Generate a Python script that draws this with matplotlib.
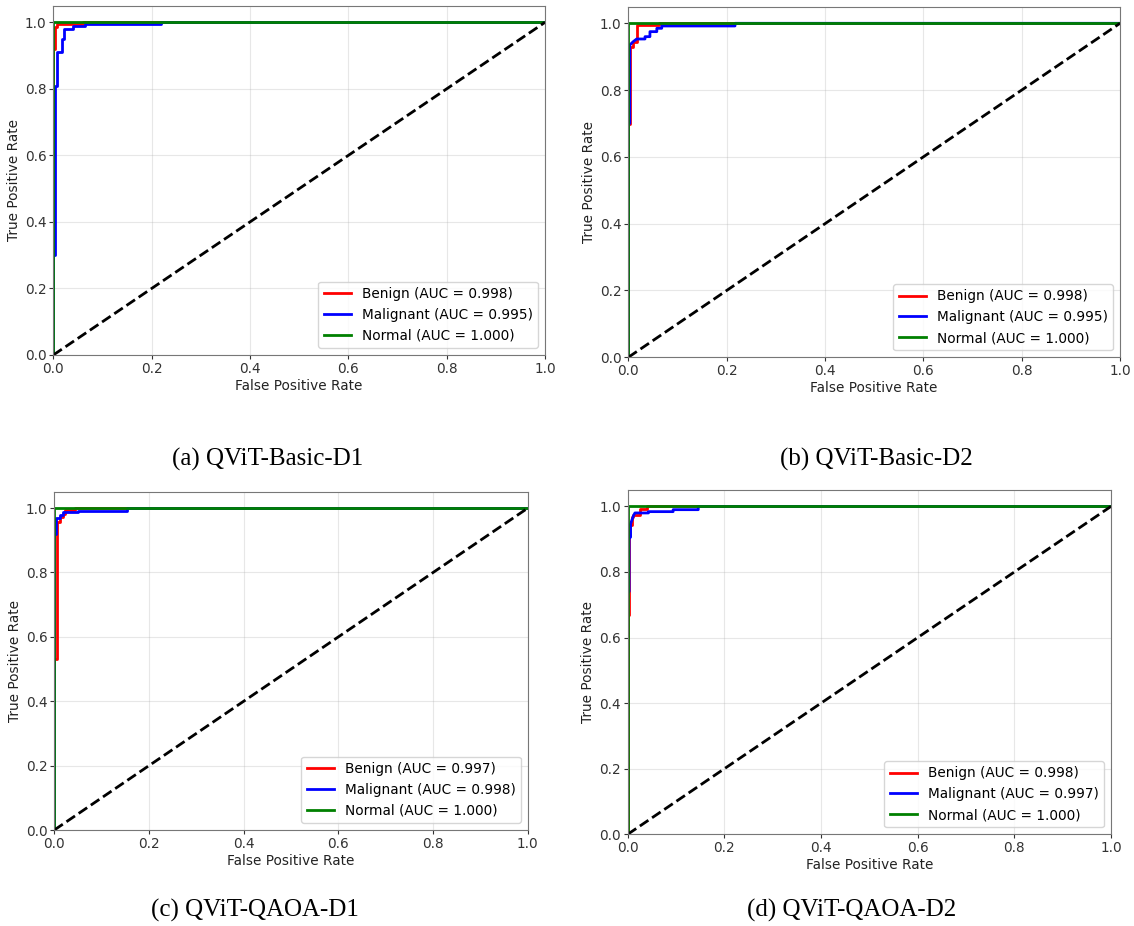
import matplotlib
matplotlib.use("Agg")
import matplotlib.pyplot as plt

W, H = 1134, 926

# ---------------- data ----------------
titles = ["(a) QViT-Basic-D1", "(b) QViT-Basic-D2", "(c) QViT-QAOA-D1", "(d) QViT-QAOA-D2"]
class_names = ["Benign", "Malignant", "Normal"]
class_colors = ["red", "blue", "green"]

auc_a = [0.998, 0.995, 1.000]
auc_b = [0.998, 0.995, 1.000]
auc_c = [0.997, 0.998, 1.000]
auc_d = [0.998, 0.997, 1.000]

# Panel (a)
benign_a_fpr = [0, 0, 0.003, 0.003, 0.008, 0.008, 0.060, 0.060, 1.0]
benign_a_tpr = [0, 0.92, 0.92, 0.985, 0.985, 0.994, 0.994, 1.0, 1.0]
malig_a_fpr = [0, 0, 0.004, 0.004, 0.008, 0.008, 0.017, 0.017, 0.021, 0.021, 0.041, 0.041, 0.064, 0.064, 0.22, 0.22, 1.0]
malig_a_tpr = [0, 0.30, 0.30, 0.81, 0.81, 0.91, 0.91, 0.95, 0.95, 0.98, 0.98, 0.989, 0.989, 0.994, 0.994, 1.0, 1.0]
normal_a_fpr = [0, 0, 1.0]
normal_a_tpr = [0, 1.0, 1.0]

# Panel (b)
benign_b_fpr = [0, 0, 0.004, 0.004, 0.010, 0.010, 0.018, 0.018, 0.062, 0.062, 1.0]
benign_b_tpr = [0, 0.70, 0.70, 0.93, 0.93, 0.945, 0.945, 0.995, 0.995, 1.0, 1.0]
malig_b_fpr = [0, 0, 0.003, 0.003, 0.010, 0.017, 0.034, 0.034, 0.044, 0.044, 0.058, 0.058, 0.068, 0.068, 0.217, 0.217, 1.0]
malig_b_tpr = [0, 0.70, 0.70, 0.935, 0.945, 0.953, 0.953, 0.96, 0.96, 0.975, 0.975, 0.985, 0.985, 0.992, 0.992, 1.0, 1.0]
normal_b_fpr = [0, 0, 1.0]
normal_b_tpr = [0, 1.0, 1.0]

# Panel (c)
benign_c_fpr = [0, 0, 0.005, 0.005, 0.006, 0.006, 0.012, 0.012, 0.019, 0.019, 0.023, 0.023, 0.044, 0.044, 1.0]
benign_c_tpr = [0, 0.53, 0.53, 0.854, 0.854, 0.957, 0.957, 0.973, 0.973, 0.983, 0.983, 0.994, 0.994, 1.0, 1.0]
malig_c_fpr = [0, 0, 0.004, 0.004, 0.011, 0.011, 0.019, 0.019, 0.050, 0.050, 0.154, 0.154, 1.0]
malig_c_tpr = [0, 0.92, 0.92, 0.968, 0.968, 0.978, 0.978, 0.987, 0.987, 0.992, 0.992, 1.0, 1.0]
normal_c_fpr = [0, 0, 1.0]
normal_c_tpr = [0, 1.0, 1.0]

# Panel (d)
benign_d_fpr = [0, 0, 0.003, 0.003, 0.008, 0.008, 0.012, 0.012, 0.025, 0.025, 0.039, 0.039, 1.0]
benign_d_tpr = [0, 0.67, 0.67, 0.942, 0.942, 0.967, 0.967, 0.975, 0.975, 0.993, 0.993, 1.0, 1.0]
malig_d_fpr = [0, 0, 0.003, 0.003, 0.006, 0.006, 0.012, 0.015, 0.043, 0.043, 0.094, 0.094, 0.146, 0.146, 1.0]
malig_d_tpr = [0, 0.74, 0.74, 0.906, 0.906, 0.947, 0.972, 0.980, 0.980, 0.984, 0.984, 0.990, 0.990, 1.0, 1.0]
normal_d_fpr = [0, 0, 1.0]
normal_d_tpr = [0, 1.0, 1.0]

x_ticks = [0.0, 0.2, 0.4, 0.6, 0.8, 1.0]
y_ticks = [0.0, 0.2, 0.4, 0.6, 0.8, 1.0]

panels = [
    (auc_a, [(benign_a_fpr, benign_a_tpr), (malig_a_fpr, malig_a_tpr), (normal_a_fpr, normal_a_tpr)]),
    (auc_b, [(benign_b_fpr, benign_b_tpr), (malig_b_fpr, malig_b_tpr), (normal_b_fpr, normal_b_tpr)]),
    (auc_c, [(benign_c_fpr, benign_c_tpr), (malig_c_fpr, malig_c_tpr), (normal_c_fpr, normal_c_tpr)]),
    (auc_d, [(benign_d_fpr, benign_d_tpr), (malig_d_fpr, malig_d_tpr), (normal_d_fpr, normal_d_tpr)]),
]

# ---------------- layout (pixel boxes: left, top, right, bottom) ----------------
boxes = [
    (53.3, 5.7, 545.0, 355.0),
    (628.3, 6.6, 1120.0, 357.3),
    (54.3, 492.0, 527.8, 830.0),
    (627.7, 490.0, 1111.0, 834.3),
]
caption_pos = [(268, 459), (876, 459), (254.5, 910), (851.5, 910)]

FS = 9.8
fig = plt.figure(figsize=(W / 100, H / 100), dpi=100)
fig.patch.set_facecolor("white")

for (auc, curves), (l, t, r, b), title, (cx, cy) in zip(panels, boxes, titles, caption_pos):
    ax = fig.add_axes([l / W, 1 - b / H, (r - l) / W, (b - t) / H])
    for (fpr, tpr), name, col, a in zip(curves, class_names, class_colors, auc):
        ax.plot(fpr, tpr, color=col, lw=2, label=f"{name} (AUC = {a:.3f})")
    ax.plot([0, 1], [0, 1], "k--", lw=2)
    ax.set_xlim(0, 1)
    ax.set_ylim(0, 1.05)
    ax.set_xticks(x_ticks)
    ax.set_yticks(y_ticks)
    ax.tick_params(labelsize=FS, colors="#333333", length=3, pad=2)
    ax.grid(True, alpha=0.3)
    for s in ax.spines.values():
        s.set_color("#777777")
    ax.set_xlabel("False Positive Rate", fontsize=FS, color="#222222", labelpad=2)
    ax.set_ylabel("True Positive Rate", fontsize=FS, color="#222222", labelpad=3)
    ax.legend(loc="lower right", fontsize=FS)
    fig.text(cx / W, 1 - cy / H, title, ha="center", va="center",
             fontsize=18, family="Liberation Serif")

fig.savefig("out.png", dpi=100)
